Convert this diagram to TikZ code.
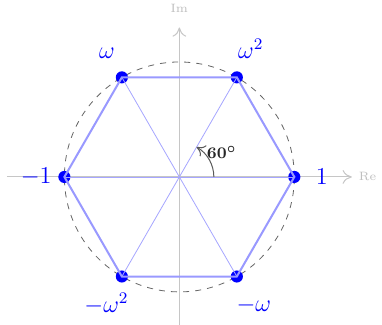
\documentclass[tikz,border=0pt]{standalone}
\usetikzlibrary{arrows.meta, positioning}
\tikzset{
	axis/.style={-{To[length=1.6mm, width=2.4mm]}, draw=gray!45, line width=0.5pt},
	axislabel/.style={text=gray!50, font=\fontsize{6}{7}\selectfont},
	unitcircle/.style={draw=black!60, dashed, line width=0.4pt},
	spoke/.style={draw=blue!35, line width=0.4pt},
	hexedge/.style={draw=blue!40, line width=1pt},
	rootdot/.style={fill=blue},
	rootlabel/.style={text=blue, font=\large},
	anglearc/.style={-{To[length=1.4mm, width=2.2mm]}, draw=black!65, line width=0.5pt},
	anglelabel/.style={text=black!85, font=\footnotesize\boldmath},
}
\begin{document}
\begin{tikzpicture}
		\useasboundingbox (-3.12,-2.574) rectangle (3.525,3.078);
		\coordinate (o) at (0,0);
		\coordinate (xl) at (-3,0);
		\coordinate (xr) at (3,0);
		\coordinate (yb) at (0,-2.6);
		\coordinate (yt) at (0,2.6);
		\coordinate (v0) at (0:2);
		\coordinate (v1) at (60:2);
		\coordinate (v2) at (120:2);
		\coordinate (v3) at (180:2);
		\coordinate (v4) at (240:2);
		\coordinate (v5) at (300:2);
		% axes
		\draw[axis] (xl) -- (xr);
		\draw[axis] (yb) -- (yt);
		\node[axislabel, right=0cm of xr] (re) {Re};
		\node[axislabel, above=0.13cm of yt] (im) {Im};
		\draw[unitcircle] (o) circle[radius=2];
		% roots
		\fill[rootdot] (v0) circle[radius=3pt];
		\fill[rootdot] (v1) circle[radius=3pt];
		\fill[rootdot] (v2) circle[radius=3pt];
		\fill[rootdot] (v3) circle[radius=3pt];
		\fill[rootdot] (v4) circle[radius=3pt];
		\fill[rootdot] (v5) circle[radius=3pt];
		\draw[spoke] (v0) -- (v3);
		\draw[spoke] (v1) -- (v4);
		\draw[spoke] (v2) -- (v5);
		\draw[hexedge] (v0) -- (v1) -- (v2) -- (v3) -- (v4) -- (v5) -- cycle;
		\node[rootlabel, right=0.25cm of v0] (one) {$1$};
		\node[rootlabel, above right=0.2cm and -0.1cm of v1] (wsq) {$\omega^2$};
		\node[rootlabel, above left=0.2cm and 0cm of v2] (w) {$\omega$};
		\node[rootlabel, left=0.1cm of v3] (mone) {$-1$};
		\node[rootlabel, below left=0.17cm and -0.24cm of v4] (mwsq) {$-\omega^2$};
		\node[rootlabel, below right=0.23cm and -0.13cm of v5] (mw) {$-\omega$};
		% angle
		\draw[anglearc] ([shift={(0:0.6)}]o) arc[start angle=0, end angle=60, radius=0.6];
		\node[anglelabel] (ang) at (30:0.85) {$60^\circ$};
	\end{tikzpicture}
\end{document}
